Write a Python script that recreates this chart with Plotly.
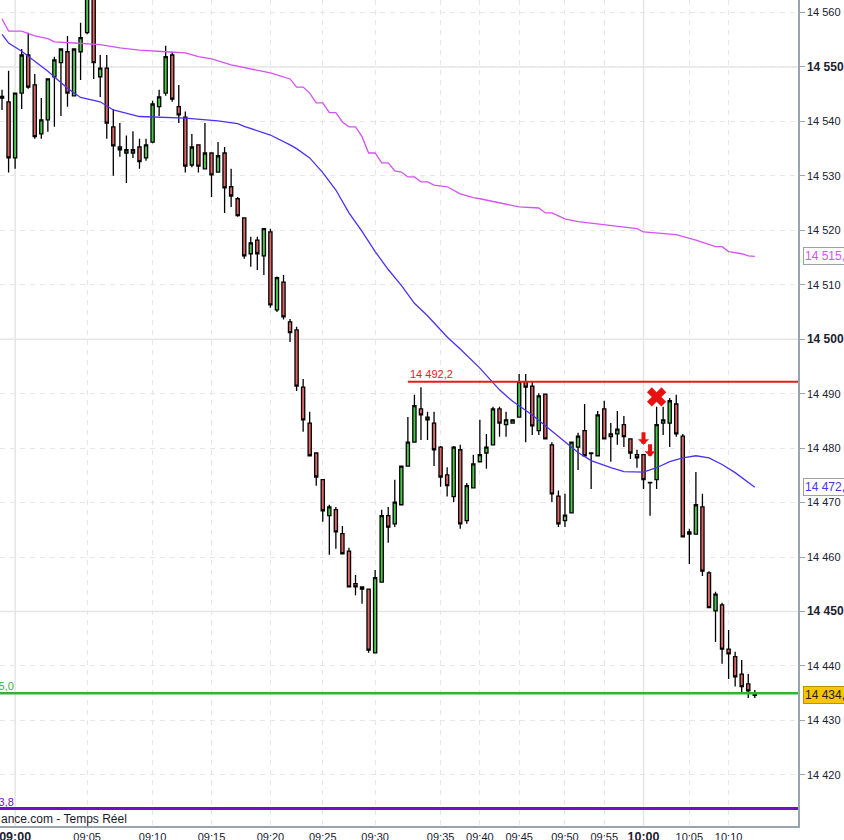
import plotly.graph_objects as go

# one candle per slot (tick-based candles, so time labels are not evenly spaced)
opens = [14544.6, 14543.6, 14533.3, 14545.2, 14552.2, 14546.7, 14537.7, 14540.3, 14548.2, 14550.8,
         14552.8, 14544.7, 14552.8, 14556.3, 14563.0, 14548.2, 14549.8, 14539.0, 14535.3, 14534.2,
         14534.2, 14535.3, 14533.3, 14536.2, 14542.7, 14545.2, 14552.2, 14542.7, 14540.8, 14532.0,
         14535.7, 14531.3, 14534.2, 14530.7, 14534.2, 14528.0, 14525.8, 14522.3, 14515.7, 14518.2,
         14515.3, 14519.7, 14505.4, 14510.5, 14503.2, 14501.7, 14491.2, 14484.6, 14479.1, 14474.2,
         14467.6, 14468.7, 14464.3, 14461.1, 14455.1, 14454.1, 14454.1, 14442.4, 14455.4, 14467.6,
         14466.1, 14469.6, 14476.7, 14481.1, 14487.2, 14485.7, 14484.6, 14480.2, 14475.1, 14471.1,
         14479.7, 14466.7, 14472.7, 14477.5, 14479.1, 14480.6, 14487.2, 14484.3, 14484.6, 14485.7,
         14492.2, 14491.4, 14483.2, 14489.9, 14480.6, 14471.2, 14466.7, 14468.1, 14480.2, 14483.2,
         14479.1, 14478.6, 14487.2, 14482.1, 14482.6, 14484.3, 14481.7, 14478.8, 14478.8, 14473.7,
         14474.2, 14484.6, 14484.6, 14488.1, 14482.2, 14464.2, 14464.2, 14469.2, 14457.1, 14450.1,
         14451.2, 14443.1, 14441.7, 14438.5, 14436.7, 14435.0]
highs = [14545.8, 14549.3, 14545.3, 14553.3, 14556.3, 14548.7, 14544.3, 14547.9, 14551.9, 14553.4,
         14555.7, 14553.4, 14558.1, 14564.5, 14564.5, 14552.2, 14552.2, 14542.3, 14539.7, 14537.4,
         14538.2, 14536.8, 14536.8, 14543.8, 14545.8, 14553.9, 14552.8, 14546.7, 14541.8, 14537.7,
         14535.8, 14539.7, 14534.3, 14536.2, 14535.3, 14531.3, 14526.1, 14522.4, 14518.8, 14518.8,
         14520.4, 14520.3, 14511.5, 14511.8, 14503.7, 14502.3, 14492.7, 14486.7, 14479.2, 14474.3,
         14469.6, 14469.2, 14465.7, 14461.7, 14456.7, 14454.6, 14454.2, 14457.6, 14468.7, 14469.2,
         14474.2, 14476.8, 14485.7, 14489.8, 14491.2, 14486.7, 14486.7, 14480.4, 14476.5, 14480.4,
         14480.6, 14473.6, 14478.8, 14485.2, 14482.6, 14487.6, 14487.6, 14486.7, 14485.3, 14493.6,
         14493.6, 14492.2, 14490.1, 14490.0, 14481.1, 14472.2, 14471.6, 14481.2, 14482.8, 14488.1,
         14479.2, 14486.8, 14488.7, 14484.6, 14486.8, 14485.9, 14481.8, 14479.7, 14478.9, 14473.8,
         14487.6, 14487.6, 14489.2, 14489.8, 14482.6, 14465.2, 14475.6, 14471.6, 14457.4, 14453.6,
         14451.6, 14446.6, 14442.6, 14441.1, 14438.5, 14435.6]
lows = [14542.1, 14530.6, 14531.3, 14542.3, 14546.0, 14536.8, 14536.8, 14538.1, 14539.0, 14541.0,
        14542.7, 14544.6, 14547.6, 14556.0, 14547.8, 14544.5, 14536.8, 14530.0, 14533.5, 14528.7,
        14533.3, 14531.3, 14532.8, 14536.0, 14541.0, 14544.7, 14543.6, 14539.7, 14530.6, 14531.6,
        14530.6, 14531.2, 14526.1, 14530.6, 14523.2, 14524.3, 14522.5, 14514.8, 14513.3, 14512.7,
        14511.8, 14505.8, 14505.0, 14503.6, 14499.5, 14490.5, 14483.0, 14478.5, 14473.1, 14466.5,
        14460.4, 14461.5, 14460.5, 14454.4, 14453.0, 14451.4, 14442.4, 14442.3, 14455.3, 14462.6,
        14465.5, 14469.5, 14476.6, 14481.0, 14481.5, 14481.5, 14476.7, 14472.9, 14471.1, 14470.1,
        14465.2, 14466.1, 14472.6, 14477.4, 14476.2, 14480.5, 14482.1, 14482.1, 14484.5, 14485.6,
        14481.1, 14482.4, 14482.4, 14481.6, 14470.1, 14465.5, 14465.5, 14468.0, 14476.0, 14478.5,
        14472.5, 14478.5, 14481.6, 14477.5, 14480.6, 14480.2, 14478.0, 14476.4, 14472.5, 14467.6,
        14472.5, 14482.4, 14480.2, 14482.1, 14463.6, 14458.7, 14464.1, 14456.5, 14450.6, 14444.4,
        14440.4, 14437.6, 14436.2, 14435.2, 14434.1, 14434.1]
closes = [14544.3, 14533.3, 14545.2, 14552.2, 14546.3, 14537.2, 14540.3, 14547.8, 14551.3, 14553.3,
          14545.2, 14553.3, 14555.4, 14563.5, 14550.8, 14549.8, 14539.7, 14535.5, 14534.8, 14534.8,
          14534.8, 14532.6, 14535.7, 14543.2, 14544.5, 14551.9, 14544.1, 14541.2, 14531.8, 14535.3,
          14531.8, 14534.2, 14530.2, 14533.7, 14527.8, 14526.3, 14522.7, 14515.3, 14517.7, 14515.7,
          14520.3, 14506.3, 14511.3, 14504.1, 14501.2, 14491.4, 14485.2, 14478.6, 14474.7, 14468.5,
          14469.2, 14464.6, 14460.6, 14454.5, 14454.5, 14454.5, 14442.9, 14456.2, 14467.6, 14465.5,
          14470.1, 14476.7, 14481.1, 14487.8, 14486.1, 14485.2, 14479.7, 14474.7, 14473.1, 14480.2,
          14466.1, 14473.1, 14477.1, 14478.8, 14480.2, 14487.2, 14484.6, 14485.2, 14485.2, 14492.2,
          14491.2, 14484.1, 14489.6, 14481.7, 14471.6, 14466.1, 14467.7, 14481.1, 14482.2, 14478.6,
          14479.0, 14486.1, 14481.7, 14482.6, 14483.5, 14482.1, 14479.1, 14478.2, 14474.2, 14473.6,
          14484.3, 14485.2, 14488.7, 14482.6, 14463.7, 14464.6, 14469.6, 14457.4, 14450.7, 14453.2,
          14443.1, 14442.2, 14438.0, 14436.2, 14435.4, 14434.6]
candle_idx = list(range(len(opens)))

# moving averages, read at a subset of candles
pink_idx = [0, 1, 3, 5, 7, 8, 11, 15, 18, 21, 25, 28, 30, 32, 35, 38, 41, 44, 45, 46, 47, 48, 49,
            50, 51, 52, 53, 54, 55, 56, 57, 58, 59, 60, 61, 62, 63, 64, 65, 66, 68, 70, 72, 73, 76,
            79, 82, 83, 84, 86, 88, 92, 93, 97, 98, 103, 106, 109, 110, 111, 113, 114, 115]
pink_val = [14558.8, 14556.6, 14556.6, 14555.7, 14555.2, 14554.6, 14554.4, 14554.1, 14553.5,
            14553.1, 14552.8, 14552.6, 14551.9, 14551.5, 14550.4, 14549.7, 14548.9, 14547.8,
            14546.3, 14546.3, 14545.2, 14543.4, 14543.4, 14541.6, 14541.6, 14539.9, 14539.0,
            14539.0, 14537.2, 14534.2, 14534.2, 14532.4, 14532.4, 14530.9, 14530.7, 14529.8,
            14529.8, 14528.9, 14528.9, 14528.3, 14528.0, 14526.7, 14526.0, 14525.8, 14525.0,
            14524.3, 14524.1, 14523.2, 14523.2, 14522.1, 14521.6, 14521.0, 14520.8, 14520.3,
            14519.7, 14519.2, 14518.2, 14517.0, 14517.0, 14516.1, 14515.7, 14515.3, 14515.2]
blue_idx = [0, 1, 3, 5, 7, 10, 12, 15, 17, 21, 28, 33, 36, 37, 41, 44, 45, 47, 49, 51, 53, 55, 57,
            59, 61, 63, 65, 68, 70, 73, 75, 76, 78, 81, 83, 85, 87, 88, 90, 93, 95, 98, 100, 102,
            104, 106, 108, 110, 112, 114, 115]
blue_val = [14556.0, 14554.4, 14552.9, 14551.0, 14549.2, 14546.1, 14544.4, 14543.6, 14542.1,
            14540.9, 14540.6, 14540.1, 14539.6, 14539.1, 14537.5, 14535.7, 14535.0, 14533.3,
            14530.6, 14527.4, 14523.2, 14519.8, 14516.1, 14512.8, 14509.9, 14506.6, 14504.3,
            14500.4, 14498.2, 14494.7, 14492.0, 14490.7, 14488.6, 14486.1, 14484.1, 14482.2,
            14480.2, 14479.2, 14477.7, 14476.4, 14475.7, 14475.6, 14476.4, 14477.5, 14478.2,
            14478.6, 14478.2, 14477.0, 14475.5, 14473.7, 14472.8]

# horizontal levels
red_level = 14492.2
red_start = 62
green_level = 14435.0
purple_level = 14413.8
last_price = 14434.6

# signals
arrow_idx = [98, 99]
arrow_val = [14480.6, 14478.4]
cross_idx = 100
cross_val = 14489.4

# axis ticks
time_idx = [2, 13, 23, 32, 41, 49, 57, 67, 73, 79, 86, 92, 98, 105, 111]
time_txt = ['09:00', '09:05', '09:10', '09:15', '09:20', '09:25', '09:30', '09:35',
            '09:40', '09:45', '09:50', '09:55', '10:00', '10:05', '10:10']
hour_marks = ['09:00', '10:00']
price_ticks = list(range(14420, 14561, 10))
major_prices = [14450, 14500, 14550]

x_range = [-0.31, 121.6]
y_range = [14410.6, 14562.3]


def fr(v):
    # french style price: 14 492,2
    return f'{v:,.1f}'.replace(',', ' ').replace('.', ',')


def fr_int(v):
    return f'{v:,}'.replace(',', ' ')


grid_col = '#e6e6e6'
font_name = 'Liberation Sans, Arial'

fig = go.Figure()

# candles
fig.add_trace(go.Candlestick(
    x=candle_idx, open=opens, high=highs, low=lows, close=closes,
    increasing=dict(fillcolor='#48c848', line=dict(color='#000000', width=1.3)),
    decreasing=dict(fillcolor='#e06464', line=dict(color='#000000', width=1.3)),
    whiskerwidth=0, showlegend=False, hoverinfo='skip'
))

# moving averages
fig.add_trace(go.Scatter(x=pink_idx, y=pink_val, mode='lines',
                         line=dict(color='#d552f2', width=1.3), showlegend=False))
fig.add_trace(go.Scatter(x=blue_idx, y=blue_val, mode='lines',
                         line=dict(color='#4a32f2', width=1.3), showlegend=False))

# red resistance line
fig.add_trace(go.Scatter(x=[red_start, x_range[1]], y=[red_level, red_level], mode='lines',
                         line=dict(color='#f01818', width=2), showlegend=False))
fig.add_hline(y=green_level, line=dict(color='#33b233', width=2.5))
fig.add_hline(y=purple_level, line=dict(color='#7a0cc0', width=3))

# sell arrows and cross
for xi, yv in zip(arrow_idx, arrow_val):
    fig.add_annotation(x=xi, y=yv, ax=0, ay=-14, showarrow=True, text='',
                       arrowhead=1, arrowsize=0.46, arrowwidth=4, arrowcolor='#e81010')
fig.add_trace(go.Scatter(x=[cross_idx], y=[cross_val], mode='markers',
                         marker=dict(symbol='x', size=17, color='#e81010', line=dict(width=0)),
                         showlegend=False))

# gridlines: solid ones
for p in major_prices:
    fig.add_shape(type='line', xref='paper', x0=0, x1=1, y0=p, y1=p, layer='below',
                  line=dict(color=grid_col, width=1.5))
for t in hour_marks:
    xi = time_idx[time_txt.index(t)]
    fig.add_shape(type='line', yref='paper', y0=0, y1=1, x0=xi, x1=xi, layer='below',
                  line=dict(color=grid_col, width=1.5))

# level labels
fig.add_annotation(x=red_start, y=red_level, text=fr(red_level), showarrow=False,
                   xanchor='left', yanchor='bottom',
                   font=dict(family=font_name, size=11, color='#f01818'))
fig.add_annotation(x=0.02, xref='paper', y=green_level, text=fr(green_level), showarrow=False,
                   xanchor='right', yanchor='bottom', yshift=-1,
                   font=dict(family=font_name, size=11, color='#33b233'))
fig.add_annotation(x=0.02, xref='paper', y=purple_level, text=fr(purple_level), showarrow=False,
                   xanchor='right', yanchor='bottom', yshift=-1,
                   font=dict(family=font_name, size=11, color='#7a0cc0'))
fig.add_annotation(x=0, xref='paper', y=0, yref='paper', text='ance.com - Temps Réel',
                   showarrow=False, xanchor='left', yanchor='bottom', xshift=-1, yshift=-2,
                   font=dict(family=font_name, size=12, color='#1a1a2a'))

# value boxes on the price axis
boxes = [(pink_val[-1], '#d552f2', '#ffffff', '#a0a0a0'),
         (blue_val[-1], '#4a32f2', '#ffffff', '#a0a0a0'),
         (last_price, '#202020', '#f7c600', '#c09000')]
for v, fc, bg, bc in boxes:
    fig.add_annotation(x=1, xref='paper', y=v, text=fr(v), showarrow=False,
                       xanchor='left', yanchor='middle', xshift=5,
                       font=dict(family=font_name, size=12, color=fc),
                       bgcolor=bg, bordercolor=bc, borderwidth=1, borderpad=1)

price_txt = [f'<b><span style="font-size:12px">{fr_int(p)}</span></b>' if p in major_prices
             else fr_int(p) for p in price_ticks]
time_lbl = [f'<b><span style="font-size:12.5px">{t}</span></b>' if t in hour_marks else t
            for t in time_txt]

fig.update_layout(
    width=844, height=840,
    margin=dict(l=0, r=46, t=0, b=14),
    paper_bgcolor='white', plot_bgcolor='white',
    font=dict(family=font_name, size=11, color='#202030'),
    xaxis=dict(range=x_range, rangeslider=dict(visible=False), tickvals=time_idx,
               ticktext=time_lbl, showgrid=True, gridcolor=grid_col, griddash='5px,5px',
               zeroline=False, showline=True, linecolor='#98a4b0', linewidth=1.5,
               ticks='', automargin=False, ticklabeloverflow='allow',
               tickfont=dict(size=11, color='#202030')),
    yaxis=dict(range=y_range, side='right', tickvals=price_ticks, ticktext=price_txt,
               showgrid=True, gridcolor=grid_col, griddash='5px,5px', zeroline=False,
               showline=True, linecolor='#98a4b0', linewidth=1.5, ticks='outside',
               ticklen=5, tickcolor='#98a4b0', automargin=False, ticklabeloverflow='allow',
               tickfont=dict(size=11, color='#202030')),
    hovermode=False,
)

fig.write_html('out.html', config={'displayModeBar': False},
               post_script="document.body.style.margin='0';")
